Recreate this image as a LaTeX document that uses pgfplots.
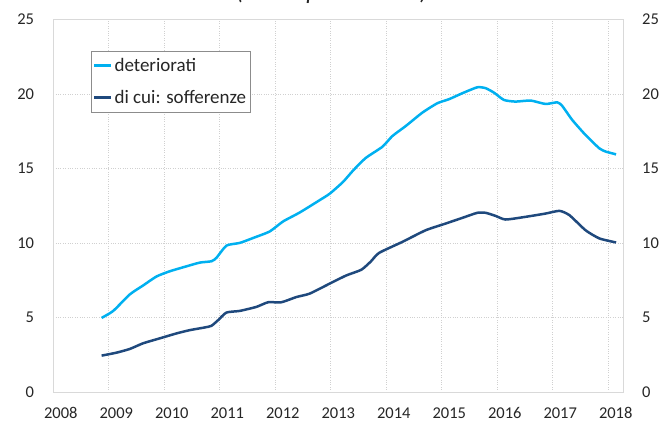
\documentclass[border=0pt]{standalone}
\usepackage{fontspec}
\setmainfont{Carlito}
\usepackage{pgfplots}
\pgfplotsset{compat=1.18}
\definecolor{lblue}{HTML}{00B0F0}
\definecolor{dblue}{HTML}{1F497D}
\definecolor{gridc}{HTML}{D0D0D0}
\definecolor{framec}{HTML}{D9D9D9}
\begin{document}
\begin{tikzpicture}
\useasboundingbox (0,0) rectangle (660bp,421bp);
\node[anchor=base, font=\fontsize{25bp}{28bp}\selectfont\itshape, text=black!85] at (332bp,421bp) {(valori percentuali)};
\begin{axis}[
  at={(53.3bp,29bp)}, anchor=south west,
  scale only axis, width=569.7bp, height=372.7bp,
  xmin=2008, xmax=2018.265, ymin=0, ymax=25,
  xtick={2008,2009,...,2018},
  xticklabels={2008,2009,2010,2011,2012,2013,2014,2015,2016,2017,2018},
  ytick={0,5,...,25},
  major tick length=0pt,
  axis line style={framec, line width=0.8bp},
  grid=major,
  major grid style={gridc, dotted, line width=0.6bp},
  /pgf/number format/assume math mode=true,
  ticklabel style={font=\fontsize{16.5bp}{19bp}\selectfont, text=black!85, inner sep=0pt},
  xticklabel style={anchor=base, yshift=-26bp, xshift=7.5bp},
  yticklabel style={anchor=east, xshift=-19bp},
  legend style={at={(0.0657,0.916)}, anchor=north west, draw=black!45, line width=0.6bp,
    font=\fontsize{19bp}{22bp}\selectfont, text=black!85, inner xsep=2bp, inner ysep=5.5bp,
    row sep=13bp, cells={anchor=west}},
  legend image code/.code={\draw[#1, line width=2.5bp] (0bp,0bp) -- (17bp,0bp);},
  clip=false,
]
\addplot[lblue, line width=2.5bp, smooth, tension=0.35] coordinates {
(2008.87,4.97) (2009.08,5.44) (2009.38,6.55) (2009.62,7.15) (2009.86,7.75)
(2010.1,8.1) (2010.4,8.43) (2010.64,8.68) (2010.85,8.77) (2010.94,9.0)
(2011.12,9.82) (2011.36,10.0) (2011.6,10.33) (2011.9,10.77) (2012.14,11.44)
(2012.44,12.04) (2012.8,12.87) (2012.98,13.3) (2013.22,14.09) (2013.4,14.85)
(2013.63,15.7) (2013.93,16.45) (2014.11,17.17) (2014.35,17.84) (2014.65,18.74)
(2014.92,19.37) (2015.13,19.64) (2015.37,20.04) (2015.64,20.44) (2015.79,20.38)
(2015.94,20.08) (2016.12,19.59) (2016.33,19.48) (2016.6,19.55) (2016.87,19.32)
(2017.08,19.43) (2017.17,19.19) (2017.35,18.25) (2017.59,17.24) (2017.84,16.34)
(2017.96,16.12) (2018.14,15.94)
};
\addlegendentry{deteriorati}
\addplot[dblue, line width=2.5bp, smooth, tension=0.35] coordinates {
(2008.87,2.44) (2009.14,2.64) (2009.38,2.89) (2009.62,3.27) (2009.92,3.6)
(2010.22,3.93) (2010.46,4.15) (2010.73,4.33) (2010.85,4.44) (2010.97,4.82)
(2011.12,5.33) (2011.36,5.44) (2011.66,5.71) (2011.87,6.02) (2012.11,6.02)
(2012.38,6.37) (2012.62,6.6) (2012.98,7.27) (2013.28,7.82) (2013.55,8.2)
(2013.72,8.75) (2013.87,9.33) (2014.29,10.07) (2014.71,10.85) (2015.07,11.3) (2015.37,11.68)
(2015.64,12.02) (2015.79,12.02) (2015.97,11.81) (2016.15,11.57) (2016.51,11.75)
(2016.87,11.97) (2017.12,12.15) (2017.3,11.86) (2017.59,10.85) (2017.84,10.3)
(2018.14,10.03)
};
\addlegendentry{di cui: sofferenze}
\end{axis}
\begin{axis}[
  at={(53.3bp,29bp)}, anchor=south west,
  scale only axis, width=569.7bp, height=372.7bp,
  xmin=2008, xmax=2018.265, ymin=0, ymax=25,
  ytick={0,5,...,25},
  hide x axis, axis y line*=right,
  axis line style={draw=none},
  major tick length=0pt,
  yticklabel pos=right,
  /pgf/number format/assume math mode=true,
  ticklabel style={font=\fontsize{16.5bp}{19bp}\selectfont, text=black!85, inner sep=0pt},
  yticklabel style={anchor=west, xshift=19bp},
]
\end{axis}
\end{tikzpicture}
\end{document}
